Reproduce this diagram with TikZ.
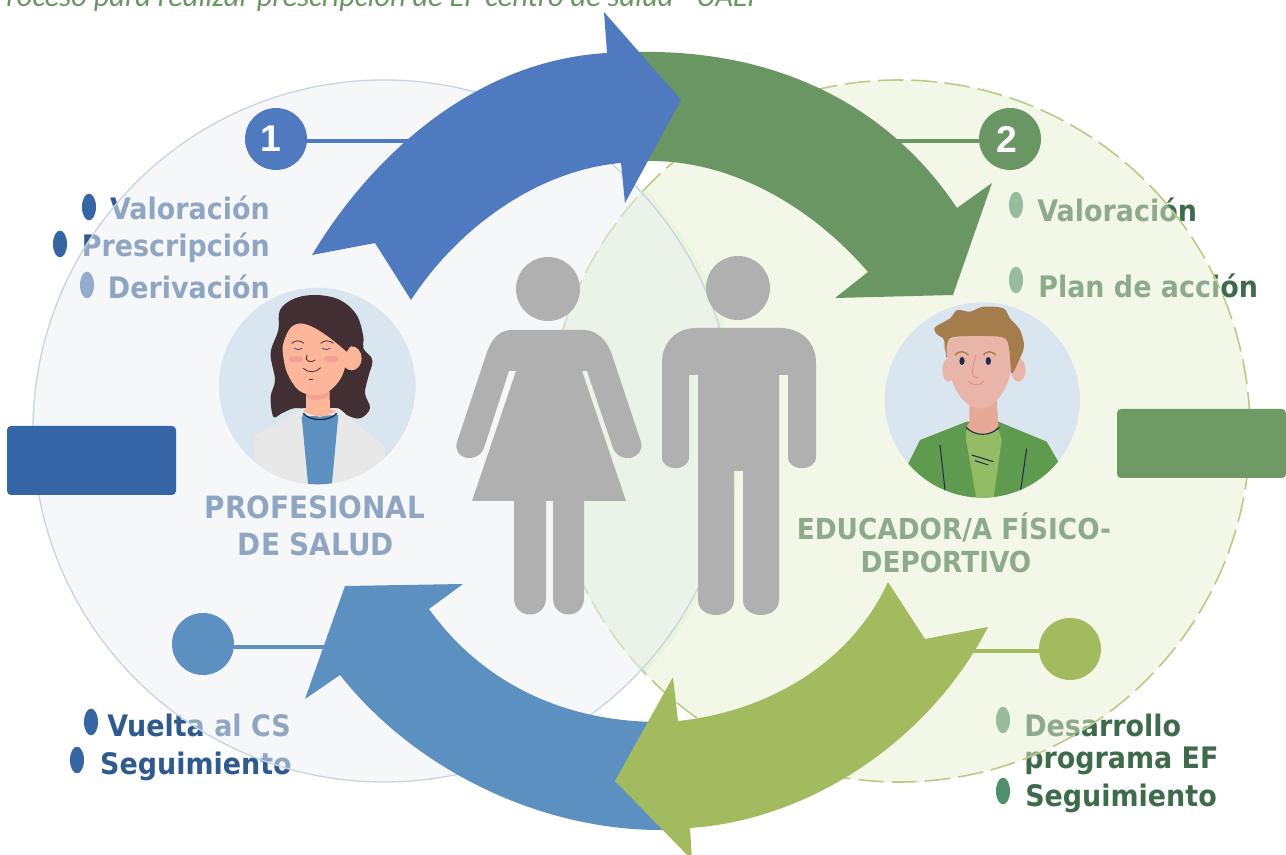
\documentclass[tikz,border=0pt]{standalone}
\usepackage{fontspec}
\setmainfont[FakeStretch=0.91]{DejaVu Sans}
\newfontfamily\titlefont{Carlito}
\newfontfamily\numfont{Liberation Sans}
\usetikzlibrary{shapes.geometric}

\definecolor{bluedark}{HTML}{2E5A8E}
\definecolor{bluemark}{HTML}{3665A5}
\definecolor{blueone}{HTML}{4F7ABF}
\definecolor{bluefour}{HTML}{5B90C0}
\definecolor{greendark}{HTML}{3F6B4D}
\definecolor{greenmark}{HTML}{4F8F6C}
\definecolor{greentwo}{HTML}{6A9663}
\definecolor{greenthree}{HTML}{A2BB5E}
\definecolor{greenrect}{HTML}{6F9A65}
\definecolor{persongray}{HTML}{B0B0B0}
\definecolor{skyback}{HTML}{D9E6EF}
\definecolor{hairdark}{HTML}{422F33}
\definecolor{skinrose}{HTML}{FDB69A}
\definecolor{skinpale}{HTML}{E9B5A8}
\definecolor{inkblue}{HTML}{1E2D50}
\definecolor{hairbrown}{HTML}{A57C4C}

\begin{document}
\begin{tikzpicture}
    [%%%%%%%%%%%%%%%%%%%%%%%%%%%%%%
        x=0.75pt,y=-0.75pt,
        item/.style={font=\bfseries\fontsize{22.2}{22.2}\selectfont,inner sep=0pt},
        itemblue/.style={item,text=bluedark},
        itemgreen/.style={item,text=greendark},
        roleblue/.style={font=\bfseries\fontsize{23}{23}\selectfont,inner sep=0pt,text=bluedark,anchor=base},
        rolegreen/.style={font=\bfseries\fontsize{21.7}{21.7}\selectfont,inner sep=0pt,text=greendark,anchor=base},
        ptmark/.style={ellipse,fill=#1,inner sep=0pt,minimum width=10.5pt,minimum height=20pt},
        stepdot/.style={circle,fill=#1,inner sep=0pt,minimum size=46.5pt,text=white,
            font=\numfont\bfseries\fontsize{28}{28}\selectfont},
        linkline/.style={line width=3pt,draw=#1},
        rolebox/.style={rectangle,rounded corners=3pt,fill=#1,minimum width=126.75pt,minimum height=51.75pt,inner sep=0pt},
        bigdisk/.style={circle,inner sep=0pt,minimum size=526.5pt},
        persondot/.style={circle,fill=persongray,inner sep=0pt,minimum size=48pt},
    ]%%%%%%%%%%%%%%%%%%%%%%%%%%%%%%

\clip (0,0) rectangle (1286,855);
\fill[white] (0,0) rectangle (1286,855);

\node[anchor=base east,inner sep=0pt,text=greentwo,font=\titlefont\itshape\fontsize{22.8}{22.8}\selectfont]
    (title) at (762,7) {Proceso para realizar prescripción de EF centro de salud - UAEF};

% lists, the two disks go over them
\node[itemblue,anchor=base east] (valprof) at (270,220) {Valoración};
\node[itemblue,anchor=base east] (preprof) at (270,257) {Prescripción};
\node[itemblue,anchor=base east] (derprof) at (270,299) {Derivación};
\node[itemblue,anchor=base east] (vueprof) at (291,736) {Vuelta al CS};
\node[itemblue,anchor=base east] (segprof) at (292,774) {Seguimiento};
\node[itemgreen,anchor=base west] (valedu) at (1037,222) {Valoración};
\node[itemgreen,anchor=base west] (planedu) at (1038,298) {Plan de acción};
\node[itemgreen,anchor=base west] (desedu) at (1024,736) {Desarrollo};
\node[itemgreen,anchor=base west] (progedu) at (1024,768) {programa EF};
\node[itemgreen,anchor=base west] (segedu) at (1025,806) {Seguimiento};

\node[ptmark=bluemark] (m1) at (89,207) {};
\node[ptmark=bluemark] (m2) at (60,244) {};
\node[ptmark=bluemark] (m3) at (87,285) {};
\node[ptmark=bluemark] (m4) at (91,722) {};
\node[ptmark=bluemark] (m5) at (77,760) {};
\node[ptmark=greenmark] (m6) at (1016,205) {};
\node[ptmark=greenmark] (m7) at (1016,280) {};
\node[ptmark=greenmark] (m8) at (1003,720) {};
\node[ptmark=greenmark] (m9) at (1003,791) {};

\node[roleblue] (role1a) at (315,518) {PROFESIONAL};
\node[roleblue] (role1b) at (316,556) {DE SALUD};
\node[rolegreen] (role2a) at (954,540) {EDUCADOR/A FÍSICO-};
\node[rolegreen] (role2b) at (946,572) {DEPORTIVO};

% right disk, green lens, left disk
\node[bigdisk,fill={rgb,255:red,229;green,239;blue,209},fill opacity=0.48] (diskedu) at (899,431) {};
\begin{scope}
    \clip (899,431) circle (351);
    \fill[fill={rgb,255:red,232;green,246;blue,218}] (384,431) circle (356);
\end{scope}
\draw[color=greenthree!75!white,line width=1.2pt,dash pattern=on 19pt off 6pt] (899,431) circle (351);
\node[bigdisk,fill={rgb,255:red,238;green,240;blue,245},fill opacity=0.51,draw={rgb,255:red,201;green,212;blue,227},line width=1pt,draw opacity=1] (diskprof) at (384,431) {};

% step dots and their links
\node[stepdot=blueone] (step1) at (276,139) {1\kern8pt};
\node[stepdot=greentwo] (step2) at (1010,139) {2\kern5pt};
\node[stepdot=bluefour] (step4) at (203,644) {};
\node[stepdot=greenthree] (step3) at (1070,649) {};
\coordinate (end1) at (420,141);
\coordinate (end2) at (880,141);
\coordinate (end4) at (345,647);
\coordinate (end3) at (960,651);
\draw[linkline=blueone] (step1.east |- end1) -- (end1);
\draw[linkline=greentwo] (step2.west |- end2) -- (end2);
\draw[linkline=bluefour] (step4.east |- end4) -- (end4);
\draw[linkline=greenthree] (step3.west |- end3) -- (end3);

% ring of arrows
\fill[greentwo] (620,52) -- (640,52) .. controls (770,50) and (885,100) .. (957,208)
    -- (992,183) -- (953,295) -- (835,298) -- (868,272)
    .. controls (810,205) and (730,160) .. (648,161) -- (620,161) -- cycle;
\fill[blueone] (312,255) .. controls (375,150) and (480,60) .. (607,53)
    -- (604,12) -- (681,100) -- (625,203) -- (621,163)
    .. controls (540,170) and (460,225) .. (411,300) -- (375,243) -- cycle;
\fill[bluefour] (670,830) -- (660,830) .. controls (540,830) and (415,770) .. (340,675)
    -- (305,699) -- (345,586) -- (463,584) -- (429,609)
    .. controls (480,680) and (560,722) .. (660,722) -- (670,722) -- cycle;
\fill[greenthree] (888,582) .. controls (850,665) and (765,712) .. (678,721)
    -- (673,677) -- (615,781) -- (692,860) -- (690,828)
    .. controls (810,820) and (930,740) .. (988,627) -- (925,639) -- cycle;

% role boxes
\node[rolebox=bluemark] (boxprof) at (91.5,460.5) {};
\node[rolebox=greenrect] (boxedu) at (1201.5,443.5) {};

% the two figures
\node[persondot] (headw) at (548,289) {};
\node[persondot] (headm) at (738,288) {};
\fill[persongray] (512,330) -- (583,330) .. controls (597,330) and (607,340) .. (612,355)
    -- (641,442) .. controls (645,459) and (620,465) .. (613,448)
    -- (587,371) -- (582,371) -- (626,501) -- (584,501) -- (584,598)
    .. controls (584,620) and (553,620) .. (553,598) -- (553,501) -- (546,501) -- (546,598)
    .. controls (546,620) and (514,620) .. (514,598) -- (514,501) -- (472,501)
    -- (516,371) -- (509,371) -- (484,448) .. controls (477,465) and (452,459) .. (457,442)
    -- (486,355) .. controls (491,340) and (498,330) .. (512,330) -- cycle;
\fill[persongray] (697,328) -- (780,328) .. controls (802,328) and (816,343) .. (816,363)
    -- (816,457) .. controls (816,472) and (788,472) .. (788,457) -- (788,375) -- (779,375)
    -- (779,600) .. controls (779,620) and (743,620) .. (743,600) -- (743,471) -- (734,471)
    -- (734,600) .. controls (734,620) and (698,620) .. (698,600) -- (698,375) -- (689,375)
    -- (689,457) .. controls (689,472) and (662,472) .. (662,457) -- (662,363)
    .. controls (662,343) and (675,328) .. (697,328) -- cycle;

% doctor portrait
\begin{scope}[shift={(200,280)},x=0.25pt,y=-0.25pt]
    \clip (352,318) circle (295);
    \fill[skyback] (352,318) circle (295);
    \fill[hairdark] plot[smooth cycle,tension=0.6] coordinates
        {(240,90) (285,55) (350,45) (420,60) (470,105) (490,170) (490,205) (517,240) (505,290) (495,340) (510,385) (480,415) (440,405) (410,385) (310,385) (280,385) (245,400) (220,410) (212,350) (225,300) (212,220) (235,150)};
    \fill[color={rgb,255:red,232;green,232;blue,232}] (310,385) -- (160,470) -- (165,570) -- (320,640) -- (400,640) -- (555,570) -- (555,500) -- (415,385) -- cycle;
    \fill[bluefour] (305,410) -- (415,405) -- (395,620) -- (325,620) -- cycle;
    \fill[skinrose] (318,320) -- (318,385) -- (310,395) -- (360,412) -- (410,395) -- (390,385) -- (388,320) -- cycle;
    \fill[bluefour] (310,400) .. controls (330,425) and (390,425) .. (410,400) -- (415,420) -- (305,420) -- cycle;
    \draw[inkblue,line width=1pt] (310,400) .. controls (330,425) and (390,425) .. (410,400);
    \fill[color={rgb,255:red,245;green,160;blue,145}] (318,340) -- (388,335) -- (388,348) .. controls (360,365) and (335,360) .. (318,350) -- cycle;
    \fill[skinrose] (455,235) ellipse (30 and 36);
    \fill[skinrose] plot[smooth cycle,tension=0.6] coordinates
        {(250,190) (275,140) (320,130) (360,150) (420,190) (440,225) (425,290) (385,335) (340,345) (295,330) (262,280) (250,230)};
    \fill[hairdark] (300,130) .. controls (340,130) and (400,180) .. (440,215) -- (470,170) -- (400,100) -- cycle;
    \fill[color={rgb,255:red,245;green,160;blue,150}] (288,237) ellipse (22 and 10);
    \fill[color={rgb,255:red,245;green,160;blue,150}] (393,237) ellipse (22 and 10);
    \draw[hairdark,line width=0.6pt] (275,190) .. controls (285,180) and (300,180) .. (312,190);
    \draw[hairdark,line width=0.6pt] (362,190) .. controls (372,180) and (390,180) .. (400,190);
    \draw[color={rgb,255:red,60;green,70;blue,130},line width=0.6pt] (283,205) .. controls (290,210) and (300,210) .. (307,205);
    \draw[color={rgb,255:red,60;green,70;blue,130},line width=0.6pt] (367,205) .. controls (374,210) and (384,210) .. (391,205);
    \draw[hairdark,line width=0.6pt] (322,225) .. controls (310,245) and (335,250) .. (346,240);
    \draw[hairdark,line width=0.6pt] (310,265) .. controls (325,280) and (350,278) .. (362,263);
    \draw[hairdark,line width=0.6pt] (326,297) -- (340,297);
\end{scope}

% educator portrait
\begin{scope}[shift={(870,290)},x=0.25pt,y=-0.25pt]
    \clip (337,330) circle (293);
    \fill[skyback] (337,330) circle (293);
    \fill[color={rgb,255:red,95;green,155;blue,78}] (290,395) -- (150,450) -- (115,520) -- (165,640) -- (520,640) -- (565,515) -- (530,455) -- (385,395) -- cycle;
    \fill[color={rgb,255:red,147;green,188;blue,100}] (288,420) -- (385,420) -- (395,450) -- (370,630) -- (320,630) -- (288,450) -- cycle;
    \fill[color={rgb,255:red,231;green,168;blue,152}] (298,330) -- (298,398) -- (290,410) .. controls (320,440) and (360,440) .. (385,408) -- (380,330) -- cycle;
    \fill[skinpale] (235,240) ellipse (18 and 35);
    \fill[skinpale] (445,240) ellipse (22 and 35);
    \fill[skinpale] plot[smooth cycle,tension=0.6] coordinates
        {(235,150) (235,210) (245,270) (275,325) (320,355) (365,345) (405,295) (425,225) (420,130)};
    \fill[hairbrown] plot[smooth cycle,tension=0.5] coordinates
        {(195,112) (240,85) (262,60) (300,65) (340,50) (400,55) (420,85) (450,120) (462,170) (445,215) (425,250) (418,180) (405,145) (350,138) (240,145) (230,205) (222,150) (200,132)};
    \draw[inkblue,line width=0.8pt] (288,412) .. controls (315,440) and (360,440) .. (388,412);
    \draw[inkblue,line width=0.8pt] (210,465) -- (225,600);
    \draw[inkblue,line width=0.8pt] (470,475) -- (452,600);
    \draw[inkblue,line width=0.8pt] (305,495) -- (370,515);
    \draw[inkblue,line width=0.8pt] (315,512) -- (355,525);
    \fill[inkblue] (276,213) ellipse (8 and 12);
    \fill[inkblue] (355,213) ellipse (8 and 12);
    \draw[hairbrown,line width=1pt] (255,195) .. controls (265,182) and (285,182) .. (295,195);
    \draw[hairbrown,line width=1pt] (340,195) .. controls (350,182) and (365,182) .. (378,195);
    \draw[color={rgb,255:red,225;green,140;blue,130},line width=0.6pt] (318,195) .. controls (300,250) and (305,265) .. (325,262);
    \draw[color={rgb,255:red,225;green,140;blue,130},line width=0.7pt] (295,272) .. controls (310,290) and (330,288) .. (342,272);
\end{scope}
\end{tikzpicture}
\end{document}
